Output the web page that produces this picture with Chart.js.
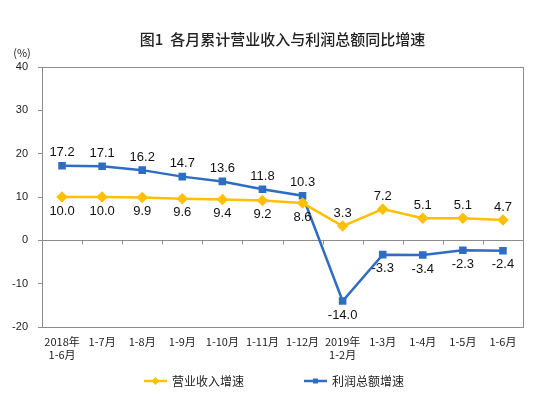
<!DOCTYPE html>
<html>
<head>
<meta charset="utf-8">
<title>图1 各月累计营业收入与利润总额同比增速</title>
<script src="https://cdn.jsdelivr.net/npm/chart.js"></script>
<style>
  html, body { margin: 0; padding: 0; background: #fff; }
</style>
</head>
<body>
<canvas id="chart" width="550" height="397"></canvas>
<script>
// data
const months = [['2018年', '1-6月'], '1-7月', '1-8月', '1-9月', '1-10月', '1-11月', '1-12月',
                ['2019年', '1-2月'], '1-3月', '1-4月', '1-5月', '1-6月'];
const revenueGrowth = [10.0, 10.0, 9.9, 9.6, 9.4, 9.2, 8.6, 3.3, 7.2, 5.1, 5.1, 4.7];
const profitGrowth = [17.2, 17.1, 16.2, 14.7, 13.6, 11.8, 10.3, -14.0, -3.3, -3.4, -2.3, -2.4];
const seriesNames = ['营业收入增速', '利润总额增速'];
const yMin = -20, yMax = 40, yStep = 10;
const chartTitle = '图1  各月累计营业收入与利润总额同比增速';
const unitLabel = '(%)';

const ORANGE = '#FFC000';
const BLUE = '#2E6DC2';
const AXIS = '#8c8c8c';
const TEXT = '#222';
const CJK = '"Noto Sans CJK SC", "Noto Sans", sans-serif';
const NUM = '"Liberation Sans", Arial, sans-serif';

// small line + marker swatch for the legend
function drawMarker(ctx, style, cx, cy, color) {
    ctx.fillStyle = color;
    ctx.beginPath();
    if (style === 'rectRot') {
        ctx.moveTo(cx, cy - 4); ctx.lineTo(cx + 4, cy); ctx.lineTo(cx, cy + 4); ctx.lineTo(cx - 4, cy);
    } else {
        ctx.rect(cx - 2.5, cy - 2.5, 5, 5);
    }
    ctx.closePath();
    ctx.fill();
}

const decor = {
    id: 'decor',
    afterDraw(chart) {
        const { ctx, chartArea: a, scales: { x, y } } = chart;
        ctx.save();

        // frame
        ctx.strokeStyle = AXIS;
        ctx.lineWidth = 1;
        ctx.strokeRect(Math.round(a.left) + 0.5, Math.round(a.top) + 0.5,
                       Math.round(a.right - a.left), Math.round(a.bottom - a.top));

        // category ticks hanging under the zero line
        const y0 = Math.round(y.getPixelForValue(0)) + 0.5;
        ctx.beginPath();
        for (let i = 1; i < months.length; i++) {
            const xm = Math.round((x.getPixelForValue(i - 1) + x.getPixelForValue(i)) / 2) + 0.5;
            ctx.moveTo(xm, y0);
            ctx.lineTo(xm, y0 + 4);
        }
        ctx.stroke();

        // title and unit
        ctx.fillStyle = TEXT;
        ctx.textBaseline = 'middle';
        ctx.textAlign = 'center';
        ctx.font = '500 15px ' + CJK;
        ctx.fillText(chartTitle, (a.left + a.right) / 2, 39);
        ctx.font = '11px ' + CJK;
        ctx.fillText(unitLabel, 22, 53);

        // legend
        ctx.textAlign = 'left';
        ctx.font = '12px ' + CJK;
        let lx = 144;
        const ly = 381;
        chart.data.datasets.forEach(ds => {
            ctx.strokeStyle = ds.borderColor;
            ctx.lineWidth = 2.5;
            ctx.beginPath();
            ctx.moveTo(lx, ly);
            ctx.lineTo(lx + 23, ly);
            ctx.stroke();
            drawMarker(ctx, ds.pointStyle, lx + 11.5, ly, ds.borderColor);
            ctx.fillStyle = TEXT;
            ctx.fillText(ds.label, lx + 28, ly);
            lx += 28 + ctx.measureText(ds.label).width + 60;
        });
        ctx.restore();
    },
    afterDatasetsDraw(chart) {
        const ctx = chart.ctx;
        ctx.save();
        ctx.font = '13px ' + NUM;
        ctx.fillStyle = '#111';
        ctx.textAlign = 'center';
        ctx.textBaseline = 'middle';
        chart.data.datasets.forEach((ds, di) => {
            chart.getDatasetMeta(di).data.forEach((pt, i) => {
                const above = ds.labelAbove[i];
                ctx.fillText(ds.data[i].toFixed(1), pt.x, above ? pt.y - 13 : pt.y + 14);
            });
        });
        ctx.restore();
    }
};

new Chart(document.getElementById('chart'), {
    type: 'line',
    data: {
        labels: months,
        datasets: [{
            label: seriesNames[0],
            data: revenueGrowth,
            borderColor: ORANGE,
            backgroundColor: ORANGE,
            borderWidth: 2.5,
            pointStyle: 'rectRot',
            pointRadius: 4,
            tension: 0,
            labelAbove: revenueGrowth.map((v, i) => i > 6)
        }, {
            label: seriesNames[1],
            data: profitGrowth,
            borderColor: BLUE,
            backgroundColor: BLUE,
            borderWidth: 2.5,
            pointStyle: 'rect',
            pointRadius: 3.6,
            tension: 0,
            labelAbove: profitGrowth.map((v, i) => i < 7)
        }]
    },
    options: {
        responsive: false,
        animation: false,
        devicePixelRatio: 1,
        layout: { padding: { top: 67, left: 0, right: 27, bottom: 0 } },
        plugins: {
            legend: { display: false },
            title: { display: false },
            tooltip: { enabled: false }
        },
        scales: {
            x: {
                offset: true,
                grid: { display: false, drawTicks: false, offset: true },
                border: { display: false },
                ticks: {
                    padding: 8,
                    color: TEXT,
                    autoSkip: false,
                    maxRotation: 0,
                    font: { family: CJK, size: 11, lineHeight: 1.2 }
                },
                afterFit(scale) { scale.height = 70; }
            },
            y: {
                min: yMin,
                max: yMax,
                grid: {
                    color: c => (c.tick && c.tick.value === 0) ? AXIS : 'rgba(0,0,0,0)',
                    tickColor: AXIS,
                    tickLength: 4,
                    drawTicks: true
                },
                border: { display: false },
                ticks: {
                    stepSize: yStep,
                    padding: 10,
                    color: TEXT,
                    font: { family: NUM, size: 11 }
                },
                afterFit(scale) {
                    scale.width = 42;
                    scale.paddingTop = 0;
                    scale.paddingBottom = 0;
                }
            }
        }
    },
    plugins: [decor]
});
</script>
</body>
</html>
